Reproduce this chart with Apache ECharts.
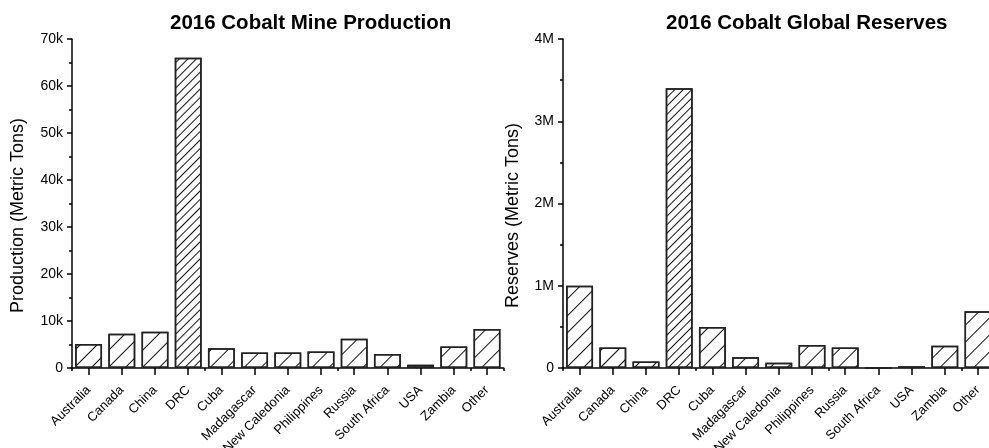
<!DOCTYPE html>
<html>
<head>
<meta charset="utf-8">
<script src="https://cdn.jsdelivr.net/npm/echarts@6/dist/echarts.min.js"></script>
<style>
  html, body { margin: 0; padding: 0; background: #fff; overflow: hidden; }
  #chart { width: 989px; height: 448px; }
</style>
</head>
<body>
<div id="chart"></div>
<script>
// Countries shared by both panels
const countries = ['Australia', 'Canada', 'China', 'DRC', 'Cuba', 'Madagascar', 'New Caledonia',
  'Philippines', 'Russia', 'South Africa', 'USA', 'Zambia', 'Other'];

// 2016 mine production, metric tons
const production = [5100, 7300, 7700, 66000, 4200, 3300, 3300, 3500, 6200, 3000, 690, 4600, 8300];

// 2016 reserves, metric tons
const reserves = [1000000, 250000, 80000, 3400000, 500000, 130000, 64000, 280000, 250000, 0, 21000, 270000, 690000];

// Y-axis tick values
const productionTicks = [0, 10000, 20000, 30000, 40000, 50000, 60000, 70000];
const reserveTicks = [0, 1000000, 2000000, 3000000, 4000000];

const FONT = '"Liberation Sans", Arial, sans-serif';
const AXIS_COLOR = '#000';

const sparseHatch = {
  symbol: 'rect', symbolSize: 1, color: '#111', backgroundColor: null,
  dashArrayX: [1, 0], dashArrayY: [1, 11], rotation: -Math.PI / 4
};
const denseHatch = {
  symbol: 'rect', symbolSize: 1, color: '#111', backgroundColor: null,
  dashArrayX: [1, 0], dashArrayY: [1, 5], rotation: -Math.PI / 4
};

function barItems(values) {
  return values.map((v, i) => ({
    value: v,
    itemStyle: { decal: countries[i] === 'DRC' ? denseHatch : sparseHatch }
  }));
}

function yAxis(gridIndex, ticks, name, gap, fmt) {
  return {
    type: 'value', gridIndex: gridIndex,
    min: ticks[0], max: ticks[ticks.length - 1], interval: ticks[1] - ticks[0],
    name: name, nameLocation: 'middle', nameGap: gap,
    nameTextStyle: { fontFamily: FONT, fontSize: 18, color: '#000', padding: [0, 24, 0, 0] },
    axisLine: { show: true, lineStyle: { color: AXIS_COLOR, width: 1.5 } },
    axisTick: { show: true, length: 5, lineStyle: { color: AXIS_COLOR, width: 1.5 } },
    minorTick: { show: true, splitNumber: 2, length: 3, lineStyle: { color: AXIS_COLOR, width: 1.5 } },
    splitLine: { show: false },
    axisLabel: { fontFamily: FONT, fontSize: 14, color: '#000', margin: 9, formatter: fmt }
  };
}

function xAxes(gridIndex) {
  return [
    {
      type: 'category', gridIndex: gridIndex, data: countries, position: 'bottom',
      axisLine: { show: true, lineStyle: { color: AXIS_COLOR, width: 1.5 } },
      axisTick: { show: true, alignWithLabel: true, length: 7, lineStyle: { color: AXIS_COLOR, width: 1.5 } },
      axisLabel: { interval: 0, rotate: 45, fontFamily: FONT, fontSize: 13, color: '#000', margin: 20 }
    },
    {
      type: 'category', gridIndex: gridIndex, data: countries, position: 'bottom',
      axisLine: { show: false },
      axisTick: { show: true, length: 3, lineStyle: { color: AXIS_COLOR, width: 1.5 } },
      axisLabel: { show: false }
    }
  ];
}

function barSeries(axisIndex, values) {
  return {
    type: 'bar', xAxisIndex: axisIndex, yAxisIndex: axisIndex / 2,
    data: barItems(values), barWidth: '81%',
    itemStyle: { color: '#fff', borderColor: '#222', borderWidth: 1.5 },
    emphasis: { disabled: true }, animation: false
  };
}

const chart = echarts.init(document.getElementById('chart'), null, { renderer: 'canvas' });
chart.setOption({
  backgroundColor: '#fff',
  animation: false,
  title: [
    { text: '2016 Cobalt Mine Production', left: 165, top: 8,
      textStyle: { fontFamily: FONT, fontSize: 20.5, fontWeight: 'bold', color: '#000' } },
    { text: '2016 Cobalt Global Reserves', left: 661, top: 8,
      textStyle: { fontFamily: FONT, fontSize: 20.5, fontWeight: 'bold', color: '#000' } }
  ],
  // the right panel runs past the window edge, so the grids keep their exact size
  grid: [
    { left: 72, top: 39, width: 431.6, height: 329, outerBoundsMode: 'none' },
    { left: 563, top: 39, width: 431.6, height: 329, outerBoundsMode: 'none' }
  ],
  xAxis: [].concat(xAxes(0), xAxes(1)),
  yAxis: [
    yAxis(0, productionTicks, 'Production (Metric Tons)', 45, v => v === 0 ? '0' : (v / 1000) + 'k'),
    yAxis(1, reserveTicks, 'Reserves (Metric Tons)', 41, v => v === 0 ? '0' : (v / 1000000) + 'M')
  ],
  series: [
    barSeries(0, production),
    barSeries(2, reserves)
  ]
});
</script>
</body>
</html>
